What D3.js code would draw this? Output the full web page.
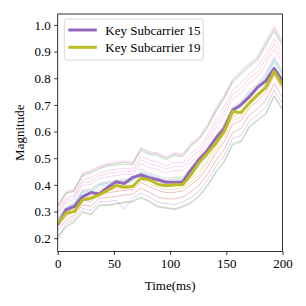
<!DOCTYPE html>
<meta charset="utf-8">
<style>
body { margin: 0; background: #fff; }
.axis path, .axis line { stroke: #000; stroke-width: 0.8px; }
.faint { fill: none; stroke-width: 1px; stroke-opacity: 0.3; }
.key { fill: none; stroke-width: 3px; stroke-linejoin: round; }
</style>
<svg width="306" height="306"></svg>
<script src="https://cdn.jsdelivr.net/npm/d3@7"></script>
<script>

var serif = "'Liberation Serif', 'Times New Roman', Times, serif";

// time axis (ms)
var times = [0, 7.4, 14.8, 22.2, 29.6, 37, 44.4, 51.9, 59.3, 66.7, 74.1, 81.5, 88.9, 96.3,
             103.7, 111.1, 118.5, 125.9, 133.3, 140.7, 148.1, 155.6, 163, 170.4, 177.8, 185.2, 192.6, 200];

// key subcarriers
var key15 = [0.25, 0.306, 0.319, 0.356, 0.371, 0.366, 0.39, 0.412, 0.405, 0.428, 0.437, 0.427, 0.419, 0.41,
             0.41, 0.41, 0.456, 0.496, 0.53, 0.575, 0.612, 0.68, 0.70, 0.73, 0.766, 0.79, 0.837, 0.79];
var key19 = [0.254, 0.294, 0.30, 0.344, 0.35, 0.3625, 0.379, 0.3975, 0.391, 0.394, 0.425, 0.419, 0.4025, 0.397,
             0.40, 0.40, 0.4375, 0.485, 0.519, 0.556, 0.60, 0.675, 0.671, 0.706, 0.7375, 0.766, 0.825, 0.775];

// other subcarriers (faint)
var sub01 = [0.32, 0.37, 0.38, 0.44, 0.45, 0.465, 0.475, 0.48, 0.485, 0.48, 0.535, 0.52, 0.515, 0.50,
             0.515, 0.51, 0.55, 0.575, 0.62, 0.68, 0.73, 0.79, 0.82, 0.85, 0.875, 0.93, 0.985, 0.93];
var sub02 = [0.325, 0.375, 0.385, 0.445, 0.455, 0.47, 0.48, 0.486, 0.49, 0.486, 0.54, 0.525, 0.52, 0.506,
             0.52, 0.516, 0.556, 0.582, 0.628, 0.688, 0.738, 0.798, 0.828, 0.858, 0.884, 0.94, 0.995, 0.94];
var sub03 = [0.315, 0.366, 0.376, 0.434, 0.444, 0.46, 0.47, 0.474, 0.478, 0.475, 0.528, 0.514, 0.51, 0.495,
             0.51, 0.505, 0.544, 0.57, 0.614, 0.674, 0.724, 0.784, 0.814, 0.844, 0.868, 0.922, 0.975, 0.922];
var sub04 = [0.304, 0.351, 0.363, 0.419, 0.426, 0.444, 0.453, 0.458, 0.463, 0.459, 0.508, 0.493, 0.486, 0.472,
             0.484, 0.482, 0.518, 0.543, 0.587, 0.646, 0.694, 0.755, 0.782, 0.816, 0.841, 0.891, 0.948, 0.893];
var sub05 = [0.287, 0.333, 0.345, 0.398, 0.402, 0.423, 0.43, 0.435, 0.44, 0.438, 0.481, 0.466, 0.457, 0.445,
             0.454, 0.453, 0.485, 0.51, 0.554, 0.611, 0.658, 0.72, 0.744, 0.781, 0.806, 0.852, 0.91, 0.857];
var sub06 = [0.274, 0.318, 0.332, 0.381, 0.383, 0.406, 0.412, 0.417, 0.422, 0.421, 0.459, 0.444, 0.433, 0.422,
             0.429, 0.43, 0.46, 0.485, 0.528, 0.583, 0.629, 0.691, 0.713, 0.753, 0.778, 0.821, 0.88, 0.827];
var sub07 = [0.265, 0.308, 0.323, 0.37, 0.37, 0.395, 0.40, 0.405, 0.41, 0.41, 0.445, 0.43, 0.418, 0.408,
             0.413, 0.415, 0.443, 0.468, 0.51, 0.565, 0.61, 0.673, 0.693, 0.735, 0.76, 0.80, 0.86, 0.808];
var sub08 = [0.256, 0.298, 0.313, 0.359, 0.357, 0.384, 0.388, 0.393, 0.398, 0.399, 0.431, 0.416, 0.402, 0.393,
             0.396, 0.40, 0.425, 0.45, 0.492, 0.547, 0.591, 0.654, 0.672, 0.717, 0.742, 0.779, 0.84, 0.788];
var sub09 = [0.243, 0.283, 0.30, 0.342, 0.338, 0.367, 0.37, 0.375, 0.38, 0.382, 0.409, 0.394, 0.379, 0.371,
             0.372, 0.377, 0.40, 0.425, 0.466, 0.519, 0.562, 0.626, 0.642, 0.689, 0.714, 0.748, 0.81, 0.759];
var sub10 = [0.23, 0.268, 0.286, 0.325, 0.319, 0.35, 0.352, 0.357, 0.362, 0.365, 0.387, 0.372, 0.355, 0.348,
             0.347, 0.354, 0.374, 0.399, 0.44, 0.491, 0.533, 0.597, 0.611, 0.661, 0.686, 0.717, 0.78, 0.729];
var sub11 = [0.19, 0.255, 0.274, 0.311, 0.303, 0.336, 0.337, 0.342, 0.31, 0.351, 0.369, 0.354, 0.336, 0.33,
             0.326, 0.335, 0.352, 0.377, 0.418, 0.468, 0.509, 0.574, 0.585, 0.638, 0.663, 0.691, 0.755, 0.705];
var sub12 = [0.21, 0.245, 0.265, 0.30, 0.29, 0.325, 0.325, 0.33, 0.335, 0.34, 0.355, 0.34, 0.32, 0.315,
             0.31, 0.32, 0.335, 0.36, 0.40, 0.45, 0.49, 0.555, 0.565, 0.62, 0.645, 0.67, 0.735, 0.685];
var sub13 = [0.205, 0.24, 0.26, 0.296, 0.287, 0.322, 0.322, 0.327, 0.332, 0.336, 0.351, 0.336, 0.317, 0.312,
             0.307, 0.316, 0.331, 0.356, 0.395, 0.445, 0.485, 0.55, 0.56, 0.615, 0.64, 0.665, 0.73, 0.68];
var sub14 = [0.27, 0.313, 0.328, 0.376, 0.377, 0.401, 0.406, 0.411, 0.416, 0.416, 0.448, 0.437, 0.426, 0.415,
             0.421, 0.423, 0.452, 0.477, 0.519, 0.574, 0.62, 0.686, 0.703, 0.744, 0.769, 0.81, 0.87, 0.818];
var sub15 = [0.25, 0.29, 0.307, 0.35, 0.348, 0.376, 0.379, 0.384, 0.389, 0.39, 0.42, 0.405, 0.39, 0.382,
             0.384, 0.388, 0.412, 0.438, 0.479, 0.533, 0.577, 0.64, 0.657, 0.703, 0.728, 0.764, 0.825, 0.774];
var sub16 = [0.296, 0.342, 0.354, 0.409, 0.414, 0.434, 0.442, 0.447, 0.452, 0.449, 0.495, 0.48, 0.472, 0.459,
             0.469, 0.468, 0.502, 0.527, 0.571, 0.629, 0.676, 0.738, 0.763, 0.799, 0.824, 0.872, 0.929, 0.875];

var faintSeries = [sub01, sub02, sub03, sub04, sub05, sub06, sub07, sub08, sub09, sub10, sub11, sub12, sub13,
                   sub14, sub15, sub16];
var faintColors = ["#8c564b", "#e377c2", "#2ca02c", "#e377c2", "#e377c2", "#7f7f7f", "#17becf",
                   "#ff7f0e", "#d62728", "#d62728", "#9467bd", "#2ca02c", "#7f7f7f",
                   "#1f77b4", "#bcbd22", "#e377c2"];

var keyNames = ["Key Subcarrier 15", "Key Subcarrier 19"];
var keyColors = ["#9467bd", "#bcbd22"];
var yTicks = [0.2, 0.3, 0.4, 0.5, 0.6, 0.7, 0.8, 0.9, 1.0];
var xTicks = [0, 50, 100, 150, 200];

var svg = d3.select("svg"),
    margin = {top: 14, right: 23.5, bottom: 54.5, left: 57.7},
    width = 306 - margin.left - margin.right,
    height = 306 - margin.top - margin.bottom;

var g = svg.append("g").attr("transform", "translate(" + margin.left + "," + margin.top + ")");

var x = d3.scaleLinear().domain([0, 200]).range([0, width]);
var y = d3.scaleLinear().domain([0.15, 1.041]).range([height, 0]);

var line = d3.line()
    .x(function(d, i) { return x(times[i]); })
    .y(function(d) { return y(d); });

g.append("clipPath").attr("id", "clip")
  .append("rect").attr("width", width).attr("height", height);

var plot = g.append("g").attr("clip-path", "url(#clip)");

plot.selectAll(".faint")
    .data(faintSeries)
    .enter().append("path")
    .attr("class", "faint")
    .attr("stroke", function(d, i) { return faintColors[i]; })
    .attr("d", line);

plot.selectAll(".key")
    .data([key15, key19])
    .enter().append("path")
    .attr("class", "key")
    .attr("stroke", function(d, i) { return keyColors[i]; })
    .attr("d", line);

// axes
g.append("g")
    .attr("class", "axis")
    .attr("transform", "translate(0," + height + ")")
    .call(d3.axisBottom(x).tickValues(xTicks).tickSize(3.5).tickPadding(3.5).tickSizeOuter(0));

g.append("g")
    .attr("class", "axis")
    .call(d3.axisLeft(y).tickValues(yTicks).tickFormat(d3.format(".1f")).tickSize(3.5).tickPadding(3.5).tickSizeOuter(0));

// frame
g.append("rect")
    .attr("width", width)
    .attr("height", height)
    .attr("fill", "none")
    .attr("stroke", "#000")
    .attr("stroke-width", 0.8);

g.selectAll(".axis .domain").remove();

// axis labels
svg.append("text")
    .attr("x", margin.left + width / 2)
    .attr("y", 289.5)
    .attr("text-anchor", "middle")
    .text("Time(ms)");

svg.append("text")
    .attr("transform", "translate(24," + (margin.top + height / 2) + ") rotate(-90)")
    .attr("text-anchor", "middle")
    .text("Magnitude");

// legend
var legend = g.append("g").attr("transform", "translate(6.6,5)");

legend.append("rect")
    .attr("width", 139)
    .attr("height", 41)
    .attr("rx", 2.5)
    .attr("fill", "#fff")
    .attr("fill-opacity", 0.8)
    .attr("stroke", "#ccc")
    .attr("stroke-width", 0.8);

var item = legend.selectAll(".item")
    .data(keyNames)
    .enter().append("g")
    .attr("class", "item")
    .attr("transform", function(d, i) { return "translate(0," + (11 + i * 17.3) + ")"; });

item.append("line")
    .attr("x1", 4)
    .attr("x2", 32.5)
    .attr("stroke", function(d, i) { return keyColors[i]; })
    .attr("stroke-width", 3);

item.append("text")
    .attr("x", 41)
    .attr("y", 4.5)
    .text(function(d) { return d; });

svg.selectAll("text")
    .attr("font-family", null)
    .style("font-family", serif)
    .style("font-size", "13px")
    .style("fill", "#000");

</script>
